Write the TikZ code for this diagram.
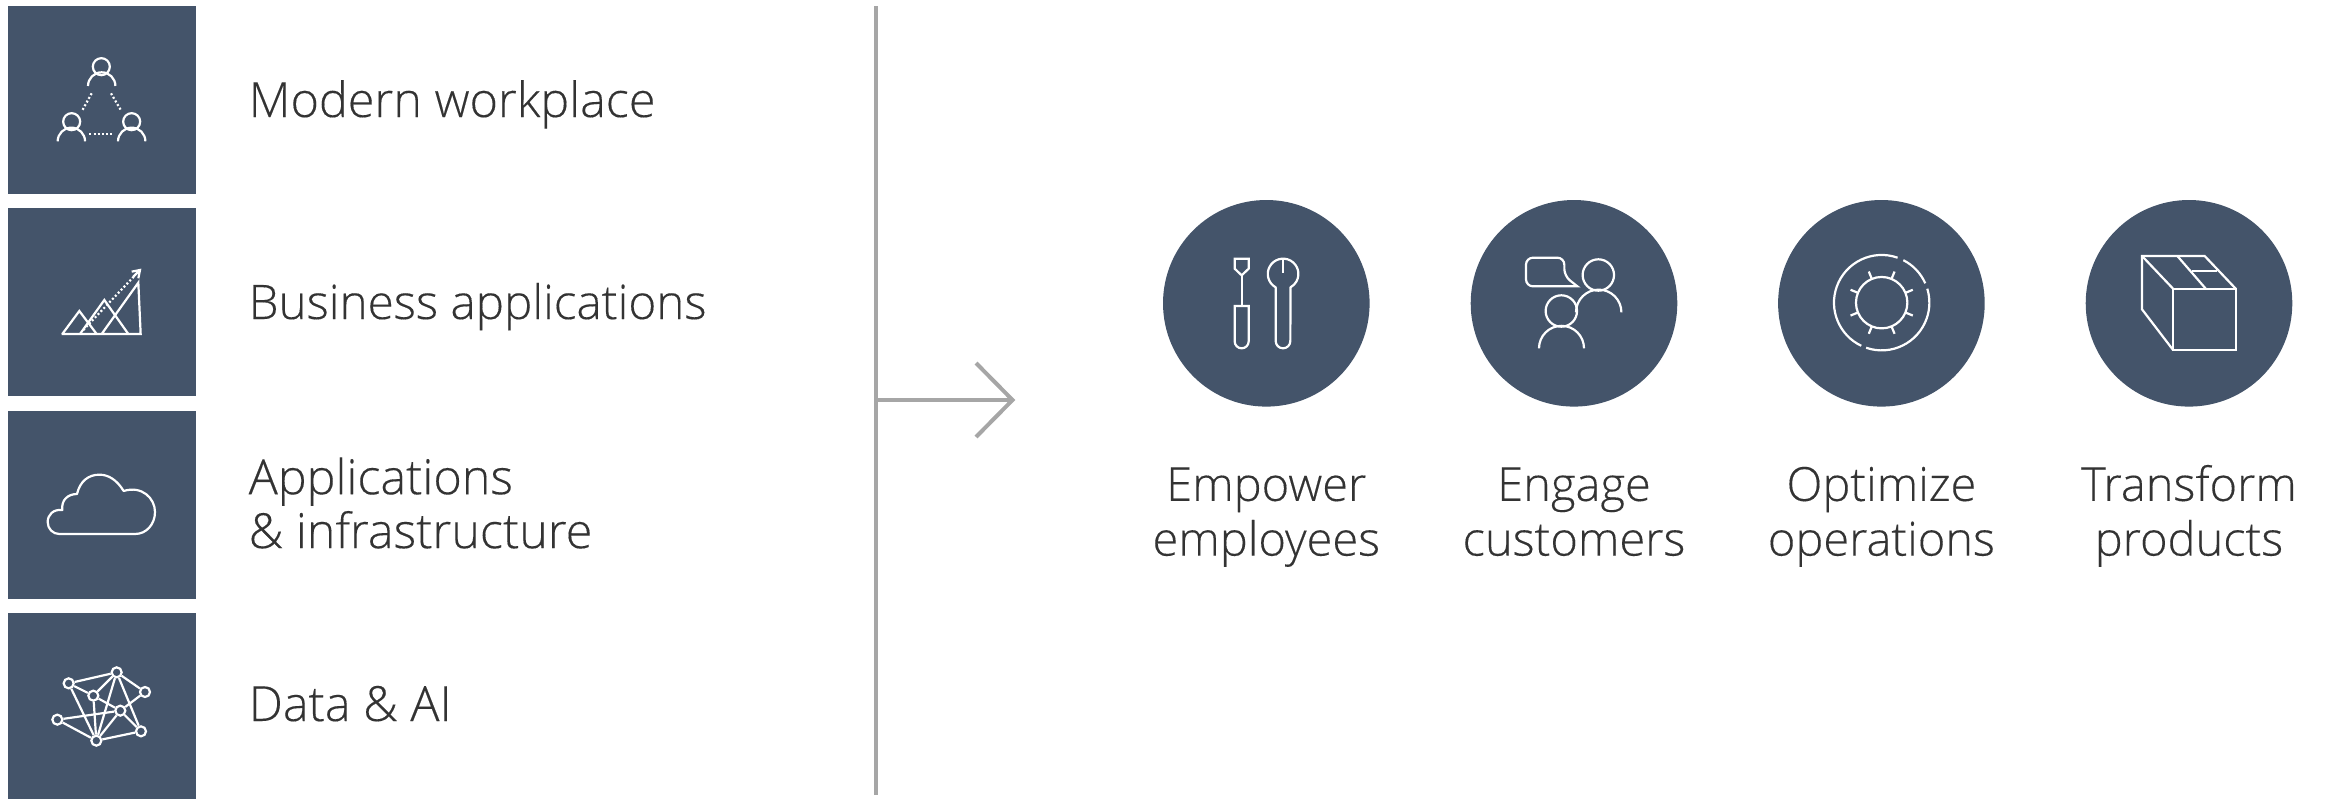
\documentclass[tikz,border=0pt]{standalone}
\usepackage{fontspec}
\setmainfont{Open Sans}[UprightFont=* Light,UprightFeatures={FakeBold=0.25}]
\definecolor{slateblue}{HTML}{44546A}
\definecolor{rulegrey}{HTML}{A6A6A6}
\definecolor{inktext}{HTML}{333333}
\usetikzlibrary{calc}
\tikzset{
  x=1pt,y=-1pt,
  tile/.style={fill=slateblue,draw=none,rectangle,minimum width=188pt,minimum height=188pt,inner sep=0pt,anchor=north west},
  disc/.style={fill=slateblue,draw=none,circle,minimum size=206.6pt,inner sep=0pt},
  ico/.style={draw=white,line width=2.2pt,line join=miter},
  dots/.style={draw=white,line width=2.2pt,dash pattern=on 2pt off 2.2pt},
  lefttext/.style={text=inktext,font=\fontsize{48.5}{52.7}\selectfont,align=left,anchor=base west,inner sep=0pt},
  righttext/.style={text=inktext,font=\fontsize{47}{54.7}\selectfont,align=center,anchor=north,inner sep=0pt},
  greyline/.style={draw=rulegrey,line width=4pt},
  netnode/.style={circle,draw=white,fill=slateblue,line width=2.2pt,minimum size=10pt,inner sep=0pt},
  netedge/.style={draw=white,line width=2.2pt},
}
\begin{document}
\begin{tikzpicture}
\useasboundingbox (0,0) rectangle (2326,798);
% tiles
\node[tile] (t1) at (8,6) {};
\node[tile] (t2) at (8,208) {};
\node[tile] (t3) at (8,411) {};
\node[tile] (t4) at (8,613) {};
\path[clip] (0,0) rectangle (2326,798);
% labels
\node[lefttext] (l1) at (248.5,117) {Modern workplace};
\node[lefttext,font=\fontsize{47.6}{52.7}\selectfont] (l2) at (248.5,319) {Business applications};
\node[lefttext,anchor=north west] (l3) at (248.5,457.1) {\strut Applications\\\strut\& infrastructure};
\node[lefttext] (l4) at (248.5,721) {Data \& AI};
% rule and arrow
\coordinate (ruletop) at (876,6);
\coordinate (rulebot) at (876,795);
\coordinate (tip) at (1012.5,400);
\coordinate (tail) at (876,400);
\coordinate (hup) at (976,363);
\coordinate (hdn) at (976,437);
\draw[greyline] (ruletop) -- (rulebot);
\draw[greyline] (tail) -- (tip);
\draw[greyline] (hup) -- (tip) -- (hdn);
% discs
\node[disc] (c1) at (1266.3,303.3) {};
\node[disc] (c2) at (1574,303.3) {};
\node[disc] (c3) at (1881.4,303.3) {};
\node[disc] (c4) at (2189,303.3) {};
\node[righttext] (r1) at (1266.3,462.4) {\strut Empower\\\strut employees};
\node[righttext] (r2) at (1574,462.4) {\strut Engage\\\strut customers};
\node[righttext] (r3) at (1881.4,462.4) {\strut Optimize\\\strut operations};
\node[righttext] (r4) at (2189,462.4) {\strut Transform\\\strut products};
% icon tile 1: three people
\begin{scope}[shift={(0,0)},x=0.33333pt,y=-0.33333pt]
  \draw[ico] (304,200) circle[radius=8.5pt];
  \draw[ico] (264,258) arc[start angle=180,end angle=0,radius=13.7pt];
  \draw[ico] (215,365) circle[radius=8.5pt];
  \draw[ico] (173,424) arc[start angle=180,end angle=0,radius=13.7pt];
  \draw[ico] (395,365) circle[radius=8.5pt];
  \draw[ico] (354,424) arc[start angle=180,end angle=0,radius=13.7pt];
  \draw[dots] (275,280) -- (247,331);
  \draw[dots] (333,280) -- (363,331);
  \draw[dots] (268,403) -- (342,403);
\end{scope}
% icon tile 2: peaks
\begin{scope}[shift={(0,0)},x=0.33333pt,y=-0.33333pt]
  \draw[ico] (185,1002) -- (422,1002) -- (415,848) -- (305,1002);
  \draw[ico] (187,1002) -- (238,933) -- (290,1002);
  \draw[ico] (240,1002) -- (313,900) -- (385,1002);
  \draw[dots] (250,990) -- (405,826);
  \draw[ico] (395,815) -- (420,810) -- (415,835);
  \draw[ico] (400,830) -- (420,810);
\end{scope}
% icon tile 3: cloud
\begin{scope}[shift={(0,398)},x=0.33333pt,y=-0.33333pt]
  \draw[ico,line join=round] (178,408) -- (405,408)
     .. controls (440,408) and (465,378) .. (465,342)
     .. controls (465,300) and (425,262) .. (371,279)
     .. controls (350,245) and (325,230) .. (298,230)
     .. controls (265,230) and (240,250) .. (231,288)
     .. controls (205,288) and (183,305) .. (187,336)
     .. controls (160,333) and (143,350) .. (143,372)
     .. controls (143,392) and (158,408) .. (178,408) -- cycle;
\end{scope}
% icon tile 4: network
\begin{scope}[shift={(0,398)},x=0.33333pt,y=-0.33333pt]
  \node[netnode] (na) at (206,856) {};
  \node[netnode] (nb) at (350,823) {};
  \node[netnode] (nc) at (435,882) {};
  \node[netnode] (nd) at (280,893) {};
  \node[netnode] (ne) at (361,938) {};
  \node[netnode] (nf) at (172,965) {};
  \node[netnode] (ng) at (423,1000) {};
  \node[netnode] (nh) at (289,1028) {};
  \foreach \p/\q in {na/nb,na/nd,na/nh,nb/nd,nb/nh,nb/nc,nb/ng,nc/ne,nd/nh,nd/ne,ne/ng,ne/nh,ne/nf,nf/nh,nh/ng}
    \draw[netedge] (\p) -- (\q);
\end{scope}
% disc 1: tools
\begin{scope}[shift={(1160,195)},x=0.33333pt,y=-0.33333pt]
  \draw[ico] (224,191) -- (266,191) -- (266,221) -- (245,241) -- (224,221) -- cycle;
  \draw[ico] (245,241) -- (245,333);
  \draw[ico] (224,333) -- (266,333) -- (266,439) arc[start angle=0,end angle=-180,radius=7pt] -- cycle;
  \draw[ico] (369,191) -- (369,233);
  \draw[ico,line join=round] (347,277) arc[start angle=241,end angle=-61,radius=15.3pt] -- (391,438) arc[start angle=0,end angle=-180,radius=7.33pt] -- cycle;
\end{scope}
% disc 2: people talking
\begin{scope}[shift={(1470,195)},x=0.33333pt,y=-0.33333pt]
  \draw[ico] (322,274) -- (190,274) [rounded corners=7pt] -- (168,274) -- (168,188) -- (283,188) -- (283,243) [sharp corners] -- cycle;
  \draw[ico] (385,240) circle[radius=15.7pt];
  \draw[ico] (274,348) circle[radius=15.7pt];
  \draw[ico] (318,352) arc[start angle=180,end angle=0,radius=22.7pt];
  \draw[ico] (207,460) arc[start angle=180,end angle=0,radius=22.5pt];
\end{scope}
% disc 3: gear
\begin{scope}[shift={(1780,195)},x=0.33333pt,y=-0.33333pt]
  \coordinate (g) at (305,323);
  \draw[ico] (g) circle[radius=25.7pt];
  \draw[ico] ([shift={(70.5:47.7pt)}]g) arc[start angle=70.5,end angle=244.7,radius=47.7pt];
  \draw[ico] ([shift={(251:47.7pt)}]g) arc[start angle=251,end angle=377,radius=47.7pt];
  \draw[ico] ([shift={(24:47.7pt)}]g) arc[start angle=24,end angle=63,radius=47.7pt];
  \foreach \a in {22.5,67.5,...,337.5}
    \draw[ico] ([shift={(\a:25.7pt)}]g) -- ([shift={(\a:33.7pt)}]g);
\end{scope}
% disc 4: box
\begin{scope}[shift={(2090,195)},x=0.33333pt,y=-0.33333pt]
  \draw[ico] (250,282) rectangle (438,466);
  \draw[ico] (438,282) -- (344,183) -- (156,183) -- (156,343) -- (250,466);
  \draw[ico] (156,183) -- (250,282);
  \draw[ico] (262,183) -- (348,282);
  \draw[ico] (306,228) -- (381,228);
\end{scope}
\end{tikzpicture}
\end{document}
